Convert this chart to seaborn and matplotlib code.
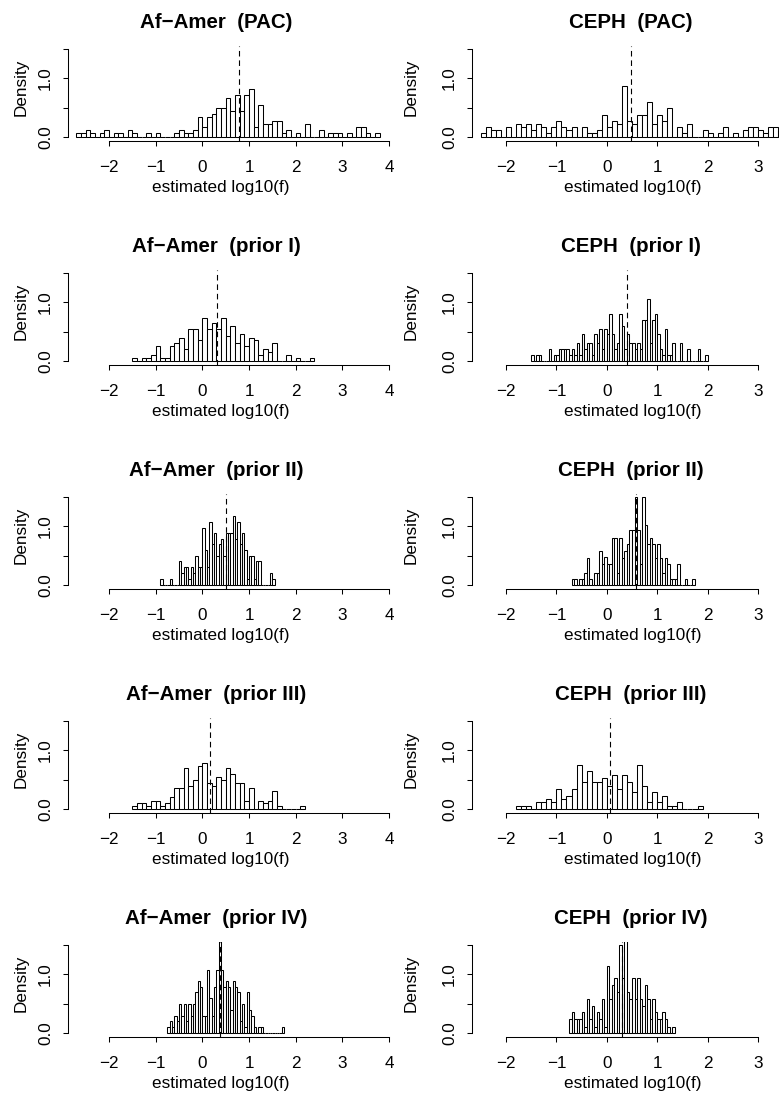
import numpy as np
import pandas as pd
import matplotlib
matplotlib.use("Agg")
import matplotlib.pyplot as plt
import seaborn as sns

sns.set_style("ticks")
plt.rcParams["font.family"] = ["Liberation Sans", "DejaVu Sans"]
plt.rcParams["text.color"] = "black"
plt.rcParams["axes.labelcolor"] = "black"
plt.rcParams["xtick.color"] = "black"
plt.rcParams["ytick.color"] = "black"

# ---------------------------------------------------------------------------
# Histogram densities of estimated log10(f) per population and method.
# Each series: first bin edge, bin width, densities of consecutive bins,
# and the position of the dashed reference line.
# ---------------------------------------------------------------------------
af_pac_start, af_pac_width = -2.7, 0.1
af_pac_density = [0.06, 0.06, 0.11, 0.06, 0, 0.06, 0.11, 0, 0.06, 0.06,
                  0, 0.11, 0.06, 0, 0, 0.06, 0, 0.06, 0, 0,
                  0, 0.06, 0.11, 0.06, 0.06, 0.11,
                  0.33, 0.16, 0.33, 0.39, 0.49, 0.49, 0.66, 0.44, 0.71, 0.44,
                  0.71, 0.82, 0.16, 0.55, 0.22, 0.22, 0.27, 0.27, 0.06, 0.11,
                  0, 0.06, 0, 0.22, 0, 0, 0.11, 0, 0.06, 0.06,
                  0.06, 0, 0.06, 0, 0.16, 0.16, 0.06, 0, 0.06]
af_pac_mark = 0.78

ceph_pac_start, ceph_pac_width = -2.5, 0.1
ceph_pac_density = [0.06, 0.16, 0.11, 0.11, 0, 0.16, 0, 0.22, 0.16, 0.22,
                    0.11, 0.22, 0.16, 0.06, 0.16, 0.27, 0.16, 0.11, 0.16, 0,
                    0.16, 0.06, 0.06, 0.11, 0.38, 0.16, 0.27, 0.22, 0.87, 0.27,
                    0.22, 0.38, 0.38, 0.60, 0.22, 0.38, 0.27, 0.49, 0, 0.16,
                    0.06, 0.22, 0, 0, 0.11, 0.06, 0, 0.06, 0.16, 0,
                    0.06, 0, 0.11, 0.16, 0.16, 0.11, 0.06, 0.16, 0.16, 0.11]
ceph_pac_mark = 0.48

af_p1_start, af_p1_width = -1.5, 0.1
af_p1_density = [0.04, 0, 0.04, 0.04, 0.09, 0.25, 0.04, 0.04, 0.25, 0.30,
                 0.39, 0.20, 0.55, 0.55, 0.35, 0.74, 0.55, 0.64, 0.55, 0.74,
                 0.43, 0.60, 0.30, 0.45, 0.25, 0.39, 0.35, 0.09, 0.20, 0.15,
                 0.30, 0, 0, 0.09, 0, 0.04, 0, 0, 0.04]
af_p1_mark = 0.31

ceph_p1_start, ceph_p1_width = -1.5, 0.05
ceph_p1_density = [0.1, 0, 0.1, 0.1, 0, 0, 0, 0.2, 0, 0.1,
                   0.1, 0.2, 0.2, 0.2, 0.2, 0.1, 0.2, 0.1, 0.31, 0.1,
                   0.45, 0.2, 0.31, 0.31, 0.1, 0.45, 0.31, 0.55, 0.2, 0.55,
                   0.45, 0.8, 0.45, 0.2, 0.31, 0.8, 0.6, 0.2, 0.45, 0.31,
                   0.31, 0.2, 0.31, 0.2, 0.7, 0.7, 1.05, 0.31, 0.7, 0.8,
                   0.45, 0.2, 0.1, 0.55, 0.1, 0.1, 0.31, 0, 0, 0.31,
                   0, 0, 0.2, 0, 0, 0, 0.2, 0, 0, 0.1]
ceph_p1_mark = 0.40

af_p2_start, af_p2_width = -0.9, 0.05
af_p2_density = [0.1, 0, 0, 0, 0.1, 0, 0, 0, 0.4, 0.2,
                 0.3, 0.3, 0.1, 0.3, 0.2, 0.5, 0.3, 0.3, 0.98, 0.6,
                 0.3, 1.07, 0.7, 0.89, 0.5, 0.7, 0.79, 0.5, 0.89, 0.89,
                 0.89, 1.17, 0.79, 1.07, 0.69, 0.89, 0.6, 0.1, 0.5, 0.5,
                 0.1, 0.4, 0.4, 0, 0, 0, 0, 0.2, 0.1]
af_p2_mark = 0.51

ceph_p2_start, ceph_p2_width = -0.7, 0.05
ceph_p2_density = [0.1, 0.1, 0, 0.1, 0.1, 0.2, 0.45, 0.1, 0, 0.2,
                   0.2, 0.58, 0.35, 0.48, 0.35, 0.35, 0.8, 0.8, 0.2, 0.8,
                   0.45, 0.58, 0.7, 0.93, 0.93, 1.5, 0.93, 0.35, 1.5, 1.03,
                   0.7, 0.8, 0.7, 0.45, 0.7, 0.45, 0.2, 0.45, 0.35, 0.1,
                   0.1, 0.1, 0.35, 0, 0, 0.1, 0, 0, 0.1]
ceph_p2_mark = 0.58

af_p3_start, af_p3_width = -1.5, 0.1
af_p3_density = [0.04, 0.09, 0.09, 0.04, 0.14, 0.14, 0.04, 0.09, 0.20, 0.35,
                 0.35, 0.69, 0.39, 0.49, 0.74, 0.79, 0.44, 0.39, 0.54, 0.49,
                 0.69, 0.59, 0.44, 0.44, 0.14, 0.35, 0, 0.14, 0.09, 0.14,
                 0.30, 0.04, 0, 0, 0, 0, 0.04]
af_p3_mark = 0.17

ceph_p3_start, ceph_p3_width = -1.8, 0.1
ceph_p3_density = [0.05, 0.05, 0.05, 0, 0.11, 0.11, 0.16, 0.11, 0.34, 0.16,
                   0.22, 0.34, 0.75, 0.45, 0.64, 0.45, 0.45, 0.52, 0.39, 0.57,
                   0.34, 0.57, 0.45, 0.28, 0.75, 0.39, 0.11, 0.28, 0.11, 0.22,
                   0.05, 0.05, 0.11, 0, 0, 0, 0.05]
ceph_p3_mark = 0.07

af_p4_start, af_p4_width = -0.75, 0.05
af_p4_density = [0.1, 0.2, 0.1, 0.29, 0.2, 0.49, 0.29, 0.49, 0.2, 0.49,
                 0.29, 0.49, 0.69, 0.89, 0.79, 0.29, 0.29, 1.07, 0.59, 0.29,
                 0.79, 1.07, 1.6, 1.07, 0.79, 0.89, 0.79, 0.39, 0.89, 0.79,
                 0.69, 0.2, 0.49, 0.1, 0.69, 0.39, 0.29, 0.1, 0, 0.1,
                 0.1, 0, 0, 0, 0, 0, 0, 0, 0, 0.1]
af_p4_mark = 0.38

ceph_p4_start, ceph_p4_width = -0.75, 0.05
ceph_p4_density = [0.23, 0.35, 0.23, 0.23, 0.23, 0.35, 0.1, 0.58, 0.23, 0.46,
                   0.1, 0.35, 0.23, 0.58, 0.1, 1.15, 0.58, 0.81, 0.93, 0.7,
                   1.5, 0.93, 1.6, 0.7, 0.58, 0.93, 0.58, 0.93, 0.58, 0.46,
                   0.81, 0.58, 0.23, 0.58, 0.35, 0.23, 0.23, 0.35, 0.23, 0.1,
                   0, 0.1]
ceph_p4_mark = 0.31

row_titles = ["PAC", "prior I", "prior II", "prior III", "prior IV"]
populations = ["Af\u2212Amer", "CEPH"]
x_label = "estimated log10(f)"
y_label = "Density"
left_ticks = [-2, -1, 0, 1, 2, 3, 4]
right_ticks = [-2, -1, 0, 1, 2, 3]
y_ticks = [0.0, 0.5, 1.0, 1.5]
y_tick_labels = ["0.0", "", "1.0", ""]

series = [
    [(af_pac_start, af_pac_width, af_pac_density, af_pac_mark),
     (ceph_pac_start, ceph_pac_width, ceph_pac_density, ceph_pac_mark)],
    [(af_p1_start, af_p1_width, af_p1_density, af_p1_mark),
     (ceph_p1_start, ceph_p1_width, ceph_p1_density, ceph_p1_mark)],
    [(af_p2_start, af_p2_width, af_p2_density, af_p2_mark),
     (ceph_p2_start, ceph_p2_width, ceph_p2_density, ceph_p2_mark)],
    [(af_p3_start, af_p3_width, af_p3_density, af_p3_mark),
     (ceph_p3_start, ceph_p3_width, ceph_p3_density, ceph_p3_mark)],
    [(af_p4_start, af_p4_width, af_p4_density, af_p4_mark),
     (ceph_p4_start, ceph_p4_width, ceph_p4_density, ceph_p4_mark)],
]

# ---------------------------------------------------------------------------
# Page geometry (pixels at 100 dpi)
# ---------------------------------------------------------------------------
W, H = 779, 1095
fig = plt.figure(figsize=(W / 100, H / 100), dpi=100)

PX_PER_Y = 58.3
Y_LO, Y_HI = -0.07, 1.56
ROW_BASE = [136.7 + 224.0 * r for r in range(5)]

cols = [
    dict(ax_left=68.0, ax_right=392.0, x_at_m2=109.0, px_per_x=46.67,
         ticks=left_ticks, title_x=216.0, xlab_x=221.0, ylab_x=21.0),
    dict(ax_left=472.0, ax_right=779.0, x_at_m2=506.0, px_per_x=50.4,
         ticks=right_ticks, title_x=631.0, xlab_x=633.0, ylab_x=411.0),
]

BASE_FS = 12.3
TITLE_FS = 14.8


def minus(v):
    return f"{v}".replace("-", "\u2212")


for r in range(5):
    base = ROW_BASE[r]
    for c in range(2):
        g = cols[c]
        start, width, dens, mark = series[r][c]

        bottom_px = base - Y_LO * PX_PER_Y
        top_px = base - Y_HI * PX_PER_Y
        ax = fig.add_axes([g["ax_left"] / W, 1 - bottom_px / H,
                           (g["ax_right"] - g["ax_left"]) / W,
                           (bottom_px - top_px) / H])

        dens = np.asarray(dens, dtype=float)
        n_bins = len(dens)
        centers = start + width * (np.arange(n_bins) + 0.5)
        df = pd.DataFrame({"x": centers, "w": dens})
        sns.histplot(data=df, x="x", weights="w", binwidth=width,
                     binrange=(start, start + width * n_bins), stat="count",
                     ax=ax, color="white", edgecolor="black", linewidth=0.75,
                     alpha=1.0)
        ax.axvline(mark, color="black", lw=0.8, dashes=(5, 3.5))

        x_lo = -2 + (g["ax_left"] - g["x_at_m2"]) / g["px_per_x"]
        x_hi = -2 + (g["ax_right"] - g["x_at_m2"]) / g["px_per_x"]
        ax.set_xlim(x_lo, x_hi)
        ax.set_ylim(Y_LO, Y_HI)

        sns.despine(ax=ax)
        ax.spines["left"].set_bounds(0, 1.5)
        ax.spines["bottom"].set_bounds(g["ticks"][0], g["ticks"][-1])
        for s in ("left", "bottom"):
            ax.spines[s].set_linewidth(0.75)
            ax.spines[s].set_color("black")

        ax.set_xticks(g["ticks"])
        ax.set_xticklabels([minus(t) for t in g["ticks"]])
        ax.set_yticks(y_ticks)
        ax.set_yticklabels(y_tick_labels, rotation=90, va="center")
        ax.tick_params(axis="both", direction="out", length=3.8, width=0.75,
                       colors="black", labelcolor="black", labelsize=BASE_FS)
        ax.tick_params(axis="x", pad=10.0)
        ax.tick_params(axis="y", pad=7.0)
        ax.set_xlabel("")
        ax.set_ylabel("")
        ax.patch.set_alpha(0)

        fig.text(g["title_x"] / W, 1 - (base - 114) / H,
                 f"{populations[c]}  ({row_titles[r]})",
                 ha="center", va="center", fontsize=TITLE_FS,
                 fontweight="bold", color="black")
        fig.text(g["xlab_x"] / W, 1 - (base + 51) / H, x_label,
                 ha="center", va="center", fontsize=BASE_FS, color="black")
        fig.text(g["ylab_x"] / W, 1 - (base - 49) / H, y_label,
                 ha="center", va="center", rotation=90, fontsize=BASE_FS,
                 color="black")

fig.savefig("out.png", dpi=100)
